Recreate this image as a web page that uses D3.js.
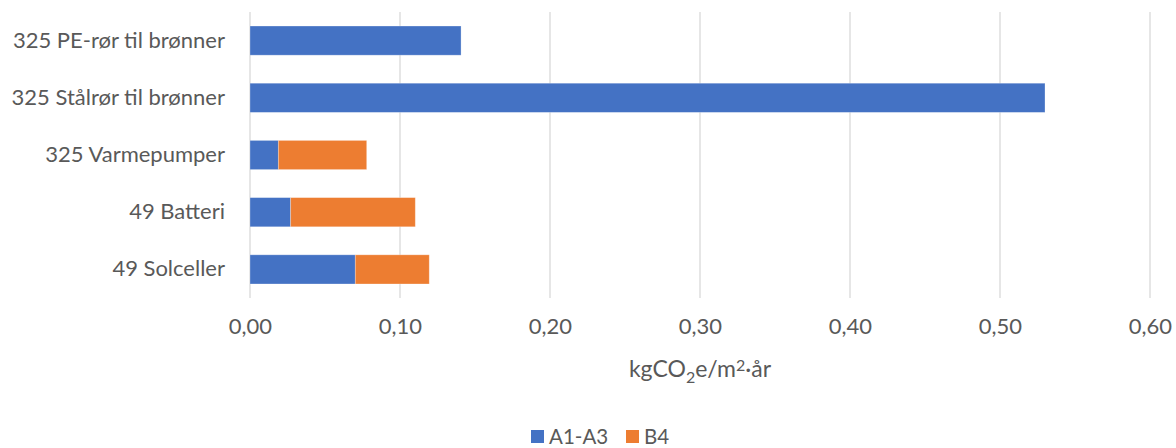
<!DOCTYPE html>
<html>
<head>
<meta charset="utf-8">
<script src="https://cdn.jsdelivr.net/npm/d3@7"></script>
<style>
  html, body { margin: 0; padding: 0; background: #fff; }
  svg { display: block; }
  text { font-family: Lato, "Open Sans", sans-serif; fill: #595959; }
</style>
</head>
<body>
<svg id="chart" width="1176" height="448"></svg>
<script>
// Categories, top to bottom
const categories = [
  "325 PE-rør til brønner",
  "325 Stålrør til brønner",
  "325 Varmepumper",
  "49 Batteri",
  "49 Solceller"
];
// Series values (kgCO2e/m²·år)
const a1a3 = [0.1407, 0.530, 0.0189, 0.0271, 0.0702];
const b4   = [0.0000, 0.000, 0.0589, 0.0831, 0.0493];
const seriesNames = ["A1-A3", "B4"];
const seriesColors = ["#4472C4", "#ED7D31"];
const xTicks = [0, 0.1, 0.2, 0.3, 0.4, 0.5, 0.6];

const svg = d3.select("#chart");
const margin = { top: 12, left: 250 };
const plotW = 900, plotH = 286;

const x = d3.scaleLinear().domain([0, 0.6]).range([0, plotW]);
const y = d3.scaleBand().domain(categories).range([0, plotH]).paddingInner(0.49).paddingOuter(0.245);

const g = svg.append("g").attr("transform", `translate(${margin.left},${margin.top})`);

// Vertical gridlines
g.append("g")
  .selectAll("line")
  .data(xTicks)
  .join("line")
  .attr("x1", d => x(d)).attr("x2", d => x(d))
  .attr("y1", 0).attr("y2", plotH)
  .attr("stroke", "#D9D9D9").attr("stroke-width", 1.3);

// Stacked bars
const rows = categories.map((c, i) => ({ cat: c, "A1-A3": a1a3[i], "B4": b4[i] }));
const stack = d3.stack().keys(seriesNames)(rows);

g.append("g")
  .selectAll("g")
  .data(stack)
  .join("g")
  .attr("fill", (d, i) => seriesColors[i])
  .selectAll("rect")
  .data(d => d.filter(p => p[1] - p[0] > 0))
  .join("rect")
  .attr("x", d => x(d[0]))
  .attr("y", d => y(d.data.cat))
  .attr("width", d => x(d[1]) - x(d[0]))
  .attr("height", y.bandwidth())
  .attr("stroke", "#fff").attr("stroke-opacity", 0.35).attr("stroke-width", 0.8);

// Category labels
const yAxis = d3.axisLeft(y).tickSize(0).tickPadding(25);
g.append("g").call(yAxis)
  .call(s => s.select(".domain").remove())
  .selectAll("text")
  .style("font-size", "22px")
  .attr("fill", "#595959");

// X tick labels
const xAxis = d3.axisBottom(x).tickValues(xTicks).tickSize(0).tickPadding(20)
  .tickFormat(d => d3.format(".2f")(d).replace(".", ","));
g.append("g").attr("transform", `translate(0,${plotH})`).call(xAxis)
  .call(s => s.select(".domain").remove())
  .selectAll("text")
  .style("font-size", "22px")
  .attr("fill", "#595959");

// Axis title
const title = svg.append("text")
  .attr("x", margin.left + plotW / 2)
  .attr("y", 377)
  .attr("text-anchor", "middle")
  .style("font-size", "23px");
title.append("tspan").text("kgCO");
title.append("tspan").attr("dy", 6).style("font-size", "16px").text("2");
title.append("tspan").attr("dy", -6).text("e/m");
title.append("tspan").attr("dy", -6).style("font-size", "16px").text("2");
title.append("tspan").attr("dy", 6).text("·år");

// Legend
const legend = svg.append("g").attr("transform", "translate(531,436.5)");
const items = [
  { name: seriesNames[0], color: seriesColors[0], x: 0 },
  { name: seriesNames[1], color: seriesColors[1], x: 95 }
];
const li = legend.selectAll("g").data(items).join("g").attr("transform", d => `translate(${d.x},0)`);
li.append("rect").attr("x", 0).attr("y", -6.5).attr("width", 13).attr("height", 13).attr("fill", d => d.color);
li.append("text").attr("x", 18).attr("y", 7).style("font-size", "20.5px").text(d => d.name);
</script>
</body>
</html>
